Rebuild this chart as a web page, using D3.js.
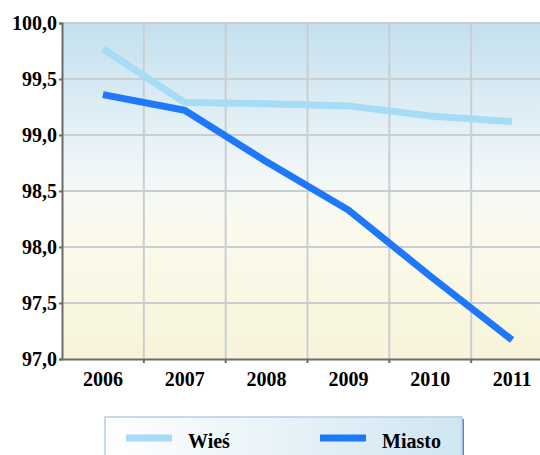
<!DOCTYPE html>
<html lang="pl">
<head>
<meta charset="utf-8">
<title></title>
<script src="https://d3js.org/d3.v7.min.js"></script>
<style>
  body { margin: 0; background: #fff; }
  #chart svg text { font-family: "Liberation Serif", "DejaVu Serif", serif !important; font-weight: bold; }
</style>
</head>
<body>
<div id="chart"></div>
<script>
  // data
  var years = ["2006", "2007", "2008", "2009", "2010", "2011"];
  var wies = [99.77, 99.29, 99.28, 99.26, 99.17, 99.12];
  var miasto = [99.36, 99.22, 98.76, 98.33, 97.74, 97.17];
  var yTicks = [97.0, 97.5, 98.0, 98.5, 99.0, 99.5, 100.0];
  var seriesNames = ["Wieś", "Miasto"];
  var seriesColors = ["#a6dcf6", "#1f77fb"];

  var W = 540, H = 455;
  var m = { left: 62, top: 23, bottom: 359, right: 553 };

  var svg = d3.select("#chart").append("svg")
    .attr("width", W).attr("height", H);

  var defs = svg.append("defs");
  var bg = defs.append("linearGradient").attr("id", "bg")
    .attr("x1", 0).attr("y1", 0).attr("x2", 0).attr("y2", 1);
  bg.append("stop").attr("offset", "0%").attr("stop-color", "#c3e0ee");
  bg.append("stop").attr("offset", "45%").attr("stop-color", "#f1f7f9");
  bg.append("stop").attr("offset", "60%").attr("stop-color", "#fbfaee");
  bg.append("stop").attr("offset", "100%").attr("stop-color", "#f8f4d9");

  var lg = defs.append("linearGradient").attr("id", "lg")
    .attr("x1", 0).attr("y1", 0).attr("x2", 1).attr("y2", 0);
  lg.append("stop").attr("offset", "0%").attr("stop-color", "#ffffff");
  lg.append("stop").attr("offset", "100%").attr("stop-color", "#cfe6f1");

  var x = d3.scaleBand().domain(years).range([m.left, m.right]);
  var y = d3.scaleLinear().domain([97, 100]).range([m.bottom, m.top]);

  // plot background
  svg.append("rect")
    .attr("x", m.left).attr("y", m.top)
    .attr("width", m.right - m.left).attr("height", m.bottom - m.top)
    .attr("fill", "url(#bg)");

  // grid
  svg.append("g").selectAll("line")
    .data(yTicks.slice(1))
    .enter().append("line")
    .attr("x1", m.left).attr("x2", m.right)
    .attr("y1", function(d) { return y(d); })
    .attr("y2", function(d) { return y(d); })
    .attr("stroke", "#c9cfd1").attr("stroke-width", 2);

  svg.append("g").selectAll("line")
    .data(years.slice(1))
    .enter().append("line")
    .attr("x1", function(d) { return x(d); })
    .attr("x2", function(d) { return x(d); })
    .attr("y1", m.top).attr("y2", m.bottom)
    .attr("stroke", "#c9cfd1").attr("stroke-width", 2);

  // axes
  var yAxis = svg.append("g")
    .attr("transform", "translate(" + m.left + ",0)")
    .call(d3.axisLeft(y).tickValues(yTicks).tickSize(3).tickPadding(2)
      .tickFormat(function(d) { return d3.format(".1f")(d).replace(".", ","); }));
  yAxis.attr("font-size", 20);
  yAxis.select(".domain").attr("stroke", "#6b6b6b").attr("stroke-width", 2);
  yAxis.selectAll(".tick line").attr("stroke", "#6b6b6b").attr("stroke-width", 2);
  yAxis.selectAll("text").attr("fill", "#000");

  var xAxis = svg.append("g")
    .attr("transform", "translate(0," + m.bottom + ")")
    .call(d3.axisBottom(x).tickSize(0).tickPadding(13));
  xAxis.attr("font-size", 20);
  xAxis.select(".domain").attr("stroke", "#6b6b6b").attr("stroke-width", 2);
  xAxis.selectAll("text").attr("fill", "#000");
  xAxis.selectAll("line.bt")
    .data(years.slice(1))
    .enter().append("line")
    .attr("class", "bt")
    .attr("x1", function(d) { return x(d); })
    .attr("x2", function(d) { return x(d); })
    .attr("y1", 0).attr("y2", 4)
    .attr("stroke", "#6b6b6b").attr("stroke-width", 2);

  // lines
  var line = d3.line()
    .x(function(d, i) { return x(years[i]) + x.bandwidth() / 2; })
    .y(function(d) { return y(d); });

  [wies, miasto].forEach(function(s, i) {
    svg.append("path")
      .datum(s)
      .attr("d", line)
      .attr("fill", "none")
      .attr("stroke", seriesColors[i])
      .attr("stroke-width", 7);
  });

  // legend
  var leg = svg.append("g");
  leg.append("rect")
    .attr("x", 461).attr("y", 419).attr("width", 3).attr("height", 40)
    .attr("fill", "#5a86c8");
  leg.append("rect")
    .attr("x", 105).attr("y", 417).attr("width", 357).attr("height", 45)
    .attr("fill", "url(#lg)").attr("stroke", "#b7cde6").attr("stroke-width", 1.5);

  var legX = [126, 320];
  seriesNames.forEach(function(n, i) {
    leg.append("line")
      .attr("x1", legX[i]).attr("x2", legX[i] + 46)
      .attr("y1", 438).attr("y2", 438)
      .attr("stroke", seriesColors[i]).attr("stroke-width", 7);
    leg.append("text")
      .attr("x", legX[i] + 62).attr("y", 448)
      .attr("font-size", 20)
      .text(n);
  });
</script>
</body>
</html>
